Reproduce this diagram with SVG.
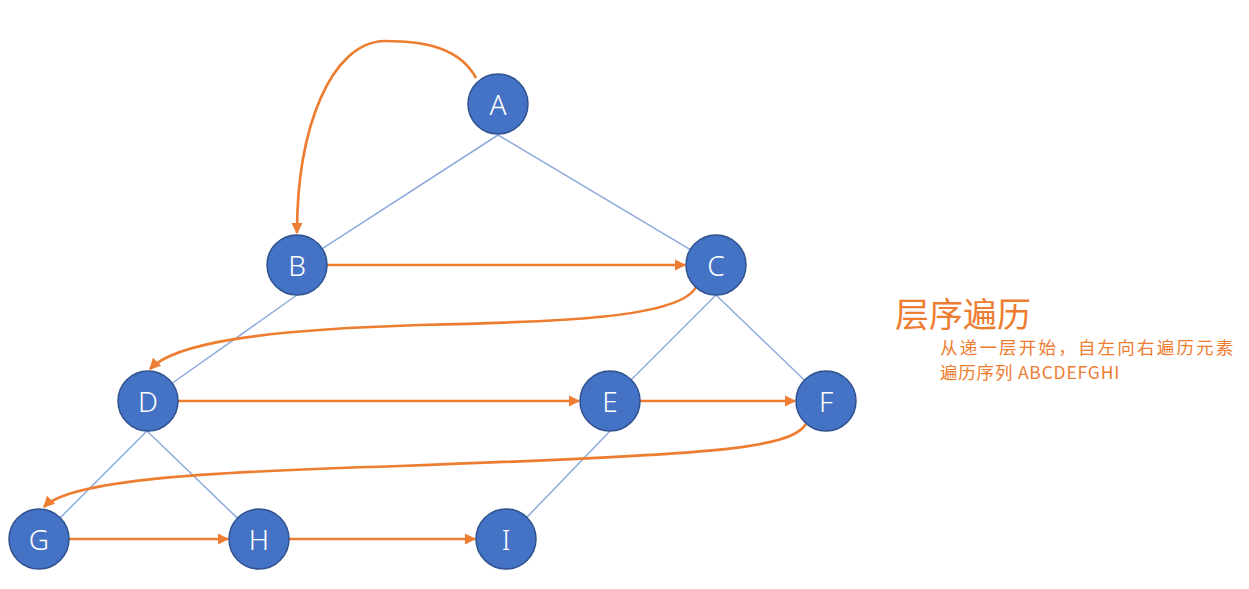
<svg xmlns="http://www.w3.org/2000/svg" width="1249" height="589" viewBox="0 0 1249 589">
<style>
.tree{stroke:#8FAADC;stroke-width:1.5;fill:none}
.trav{stroke:#ED7D31;stroke-width:2.7;fill:none;marker-end:url(#ah)}
.node circle{fill:#4472C4;stroke:#2F528F;stroke-width:1.5}
.node text{fill:#FFFFFF;font-family:"Noto Sans","Noto Sans CJK SC",sans-serif;font-size:28px;font-weight:300;text-anchor:middle;dominant-baseline:central}
.ann{fill:#ED7D31;font-family:"Noto Sans CJK SC","Noto Sans",sans-serif}
</style>
<defs>
<marker id="ah" viewBox="0 0 10 10" refX="9" refY="5" markerWidth="4.2" markerHeight="4.2" markerUnits="strokeWidth" orient="auto">
<path d="M0,0 L10,5 L0,10 Z" fill="#ED7D31"/>
</marker>
</defs>
<rect width="1249" height="589" fill="#FFFFFF"/>
<g id="tree-edges">
<line class="tree" x1="498" y1="135" x2="297" y2="265"/>
<line class="tree" x1="498" y1="135" x2="716" y2="265"/>
<line class="tree" x1="297" y1="295" x2="147" y2="401"/>
<line class="tree" x1="716" y1="295" x2="610" y2="401"/>
<line class="tree" x1="716" y1="295" x2="826" y2="401"/>
<line class="tree" x1="147" y1="431" x2="39" y2="539"/>
<line class="tree" x1="147" y1="431" x2="259" y2="539"/>
<line class="tree" x1="610" y1="431" x2="506" y2="539"/>
</g>
<g id="connectors">
<path class="trav" d="M476,78 C460,48 425,41 385,41 C330,42 297,130 297,233"/>
<path class="trav" d="M327,265 L685,265"/>
<path class="trav" d="M696,287 C680,318 560,322 420,325 C260,330 175,343 150,369"/>
<path class="trav" d="M178,401 L579,401"/>
<path class="trav" d="M640,401 L795,401"/>
<path class="trav" d="M806,424 C790,450 700,455 400,466 C200,472 70,480 44,507"/>
<path class="trav" d="M69,539 L228,539"/>
<path class="trav" d="M289,539 L475,539"/>
</g>
<g id="node-A" class="node"><circle cx="498" cy="104" r="30"/><text x="498" y="104">A</text></g>
<g id="node-B" class="node"><circle cx="297" cy="265" r="30"/><text x="297" y="265">B</text></g>
<g id="node-C" class="node"><circle cx="716" cy="265" r="30"/><text x="716" y="265">C</text></g>
<g id="node-D" class="node"><circle cx="148" cy="401" r="30"/><text x="148" y="401">D</text></g>
<g id="node-E" class="node"><circle cx="610" cy="401" r="30"/><text x="610" y="401">E</text></g>
<g id="node-F" class="node"><circle cx="826" cy="401" r="30"/><text x="826" y="401">F</text></g>
<g id="node-G" class="node"><circle cx="39" cy="539" r="30"/><text x="39" y="539">G</text></g>
<g id="node-H" class="node"><circle cx="259" cy="539" r="30"/><text x="259" y="539">H</text></g>
<g id="node-I" class="node"><circle cx="506" cy="539" r="30"/><text x="506" y="539">I</text></g>
<g id="annotation">
<text class="ann" x="895" y="327" font-size="34">层序遍历</text>
<text class="ann" x="940" y="354" font-size="17.5" letter-spacing="2.2">从递一层开始，自左向右遍历元素</text>
<text class="ann" x="940" y="379" font-size="17.5" letter-spacing="0.8">遍历序列 ABCDEFGHI</text>
</g>
</svg>
